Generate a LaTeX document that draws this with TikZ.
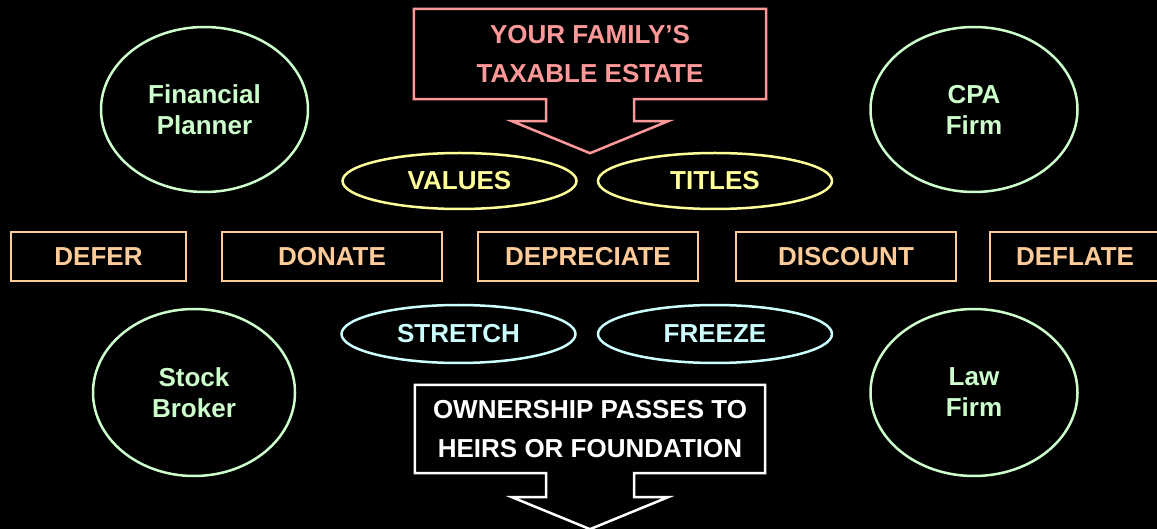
\documentclass[tikz,border=0pt]{standalone}
\usepackage{fontspec}
\setmainfont{Liberation Sans}
\usetikzlibrary{shapes.geometric,calc}

\definecolor{estatepink}{HTML}{FF9999}
\definecolor{toolpeach}{HTML}{FFCC99}
\definecolor{bubbleyellow}{HTML}{FFFF99}
\definecolor{bubblecyan}{HTML}{CCFFFF}
\definecolor{advisorgreen}{HTML}{CCFFCC}

\begin{document}
\begin{tikzpicture}[x=1pt, y=-1pt,
    txt/.style={font=\fontsize{26}{31}\selectfont\bfseries, align=center, inner sep=0pt},
    advisor/.style={txt, ellipse, draw=advisorgreen, text=advisorgreen, line width=2.5pt, minimum width=207, minimum height=165},
    bubble/.style={txt, ellipse, line width=2.5pt, minimum width=234, minimum height=56},
    tool/.style={txt, rectangle, draw=toolpeach, text=toolpeach, line width=2.5pt, minimum width=220, minimum height=49},
    callout/.style={font=\fontsize{26}{39}\selectfont\bfseries, align=center, inner sep=0pt, rectangle, minimum width=352, minimum height=90}]

    \fill[black] (0,0) rectangle (1157,529);
    \useasboundingbox (0,0) rectangle (1157,529);

    % estate at the top
    \node[callout, text=estatepink] (estate) at (590,54) {YOUR FAMILY’S\\TAXABLE ESTATE};
    \draw[estatepink, line width=2.5pt] (estate.south west) -- (estate.north west) -- (estate.north east) -- (estate.south east)
        -- ($(estate.south)+(44,0)$) -- ($(estate.south)+(44,22)$) -- ($(estate.south)+(78,22)$)
        -- ($(estate.south)+(0,54)$)
        -- ($(estate.south)+(-78,22)$) -- ($(estate.south)+(-44,22)$) -- ($(estate.south)+(-44,0)$) -- cycle;

    % advisors
    \node[advisor] (planner) at (204.5,109.5) {Financial\\Planner};
    \node[advisor] (cpa) at (974,109.5) {CPA\\Firm};
    \node[advisor, minimum width=202, minimum height=167] (broker) at (194,392.5) {Stock\\Broker};
    \node[advisor, minimum height=167] (law) at (974,392.5) {Law\\Firm};

    \node[bubble, draw=bubbleyellow, text=bubbleyellow] (values) at (459.5,181) {VALUES};
    \node[bubble, draw=bubbleyellow, text=bubbleyellow] (titles) at (715,181) {TITLES};

    % the five D's
    \node[tool, minimum width=175] (defer) at (98.5,256.5) {DEFER};
    \node[tool] (donate) at (332,256.5) {DONATE};
    \node[tool] (depreciate) at (588,256.5) {DEPRECIATE};
    \node[tool] (discount) at (846,256.5) {DISCOUNT};
    \node[tool, minimum width=170] (deflate) at (1075,256.5) {DEFLATE};

    \node[bubble, draw=bubblecyan, text=bubblecyan, minimum height=58] (stretch) at (458.5,334) {STRETCH};
    \node[bubble, draw=bubblecyan, text=bubblecyan, minimum height=58] (freeze) at (715,334) {FREEZE};

    % heirs at the bottom
    \node[callout, text=white, minimum width=350, minimum height=88] (heirs) at (590,429) {OWNERSHIP PASSES TO\\HEIRS OR FOUNDATION};
    \draw[white, line width=2.5pt] (heirs.south west) -- (heirs.north west) -- (heirs.north east) -- (heirs.south east)
        -- ($(heirs.south)+(44,0)$) -- ($(heirs.south)+(44,24)$) -- ($(heirs.south)+(78,24)$)
        -- ($(heirs.south)+(0,56)$)
        -- ($(heirs.south)+(-78,24)$) -- ($(heirs.south)+(-44,24)$) -- ($(heirs.south)+(-44,0)$) -- cycle;

\end{tikzpicture}
\end{document}
